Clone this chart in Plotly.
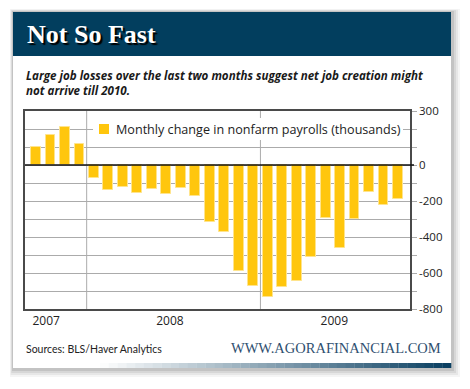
import plotly.graph_objects as go

# ---- data ----
months = ["Sep 2007", "Oct 2007", "Nov 2007", "Dec 2007",
          "Jan 2008", "Feb 2008", "Mar 2008", "Apr 2008", "May 2008", "Jun 2008",
          "Jul 2008", "Aug 2008", "Sep 2008", "Oct 2008", "Nov 2008", "Dec 2008",
          "Jan 2009", "Feb 2009", "Mar 2009", "Apr 2009", "May 2009", "Jun 2009",
          "Jul 2009", "Aug 2009", "Sep 2009", "Oct 2009"]
payroll_change = [100, 167, 213, 117,
                  -74, -141, -124, -157, -133, -161, -126, -174, -317, -374, -591, -674,
                  -735, -678, -646, -513, -294, -461, -300, -152, -220, -187]
year_labels = ["2007", "2008", "2009"]
y_tick_values = [300, 0, -200, -400, -600, -800]
y_tick_labels = ["300", "0", "-200", "-400", "-600", "-800"]
series_name = "Monthly change in nonfarm payrolls (thousands)"

# ---- geometry helpers (pixels -> paper) ----
W, H = 470, 389
L, R, T, B = 25, 410, 111, 309


def px(x):
    return (x - L) / (R - L)


def py(y):
    return (B - y) / (B - T)


x_idx = list(range(len(months)))
# year boundary positions (between Dec and Jan)
bounds = [i - 0.5 for i in range(1, len(months)) if months[i].startswith("Jan")]
year_tick_pos = [0.7, 9.25, 20.6]

BAR = "#FFC60D"
GRID = "#ABABAB"
NAVY = "#023E5E"

fig = go.Figure()
fig.add_trace(go.Bar(
    x=x_idx, y=payroll_change, width=0.68, name=series_name,
    marker=dict(color=BAR, line=dict(color="#FFE48C", width=1)),
    showlegend=False, hovertext=months,
))

shapes = []
# card shadow
for d, op in [(9, 0.05), (7, 0.07), (5, 0.09), (3, 0.12)]:
    shapes.append(dict(type="rect", xref="paper", yref="paper", layer="below",
                       x0=px(13 - d / 3), x1=px(451 + d), y0=py(12 - d / 3), y1=py(368 + d),
                       line=dict(width=0), fillcolor=f"rgba(60,60,60,{op})"))
# card
shapes.append(dict(type="rect", xref="paper", yref="paper", layer="below",
                   x0=px(13), x1=px(451), y0=py(12), y1=py(368),
                   line=dict(width=0), fillcolor="white"))
# title banner
shapes.append(dict(type="rect", xref="paper", yref="paper", layer="below",
                   x0=px(13), x1=px(451), y0=py(12), y1=py(56),
                   line=dict(width=0), fillcolor=NAVY))
# bottom gradient strip
n = 40
gx0, gx1 = 100, 451
for i in range(n):
    t = (i + 0.5) / n
    c0, c1 = (255, 255, 255), (8, 62, 96)
    c = tuple(int(round(a + (b - a) * t)) for a, b in zip(c0, c1))
    shapes.append(dict(type="rect", xref="paper", yref="paper", layer="below",
                       x0=px(gx0 + (gx1 - gx0) * i / n), x1=px(gx0 + (gx1 - gx0) * (i + 1) / n + 0.3),
                       y0=py(363), y1=py(368), line=dict(width=0),
                       fillcolor=f"rgb{c}"))
# year separators
for b in bounds:
    shapes.append(dict(type="line", xref="x", yref="paper", layer="below",
                       x0=b, x1=b, y0=0, y1=1, line=dict(color=GRID, width=1)))
# zero line drawn above the bars, running into the tick area
shapes.append(dict(type="line", xref="paper", yref="y", layer="above",
                   x0=0, x1=px(414), y0=0, y1=0, line=dict(color="#111", width=1.5)))
# legend box + swatch
shapes.append(dict(type="rect", xref="paper", yref="paper", layer="above",
                   x0=px(93), x1=px(403), y0=py(118), y1=py(140),
                   line=dict(width=0), fillcolor="white"))
shapes.append(dict(type="rect", xref="paper", yref="paper", layer="above",
                   x0=px(99), x1=px(109), y0=py(124), y1=py(134),
                   line=dict(width=0), fillcolor=BAR))

annotations = [
    dict(text="Not So Fast", xref="paper", yref="paper", x=px(25), y=py(34.5),
         xanchor="left", yanchor="middle", showarrow=False,
         font=dict(family="Liberation Serif", size=26, color="white", weight=700,
                   shadow="2px 2px 1px #000")),
    dict(text="Large job losses over the last two months suggest net job creation might<br>not arrive till 2010.",
         xref="paper", yref="paper", x=px(24), y=py(66), xanchor="left", yanchor="top",
         align="left", showarrow=False,
         font=dict(family="Open Sans", size=11.6, color="#1a1a1a", weight=700, style="italic")),
    dict(text=series_name, xref="paper", yref="paper", x=px(114), y=py(129.5),
         xanchor="left", yanchor="middle", showarrow=False,
         font=dict(family="Open Sans", size=12.6, color="#222")),
    dict(text="Sources: BLS/Haver Analytics", xref="paper", yref="paper", x=px(24), y=py(349),
         xanchor="left", yanchor="middle", showarrow=False,
         font=dict(family="Lato", size=10.5, color="#222")),
    dict(text="WWW.AGORAFINANCIAL.COM", xref="paper", yref="paper", x=px(443), y=py(348),
         xanchor="right", yanchor="middle", showarrow=False,
         font=dict(family="Liberation Serif", size=14.5, color="#2F5070")),
]

fig.update_layout(
    width=W, height=H,
    margin=dict(l=L, r=W - R, t=T, b=H - B, pad=0),
    paper_bgcolor="white", plot_bgcolor="rgba(0,0,0,0)",
    shapes=shapes, annotations=annotations,
    bargap=0, showlegend=False,
    xaxis=dict(range=[-0.76, 25.83], showgrid=False, zeroline=False,
               tickmode="array", tickvals=year_tick_pos, ticktext=year_labels,
               ticks="", showline=True, mirror=True, linecolor="#4a4a4a", linewidth=1.5,
               tickfont=dict(family="Open Sans", size=12, color="#222")),
    yaxis=dict(range=[-800, 300], side="right", tickmode="array",
               tickvals=y_tick_values, ticktext=y_tick_labels,
               showgrid=True, gridcolor=GRID, gridwidth=1,
               ticks="outside", ticklen=5, tickcolor=GRID,
               minor=dict(tickmode="linear", tick0=0, dtick=100, showgrid=True,
                          gridcolor=GRID, gridwidth=1, ticks="outside", ticklen=5,
                          tickcolor=GRID),
               zeroline=False,
               showline=True, mirror=True, linecolor="#4a4a4a", linewidth=1.5,
               tickfont=dict(family="Open Sans", size=11.5, color="#222")),
)

fig.write_html("out.html",
               config={"displayModeBar": False},
               post_script="document.body.style.margin='0';document.body.style.padding='0';")
